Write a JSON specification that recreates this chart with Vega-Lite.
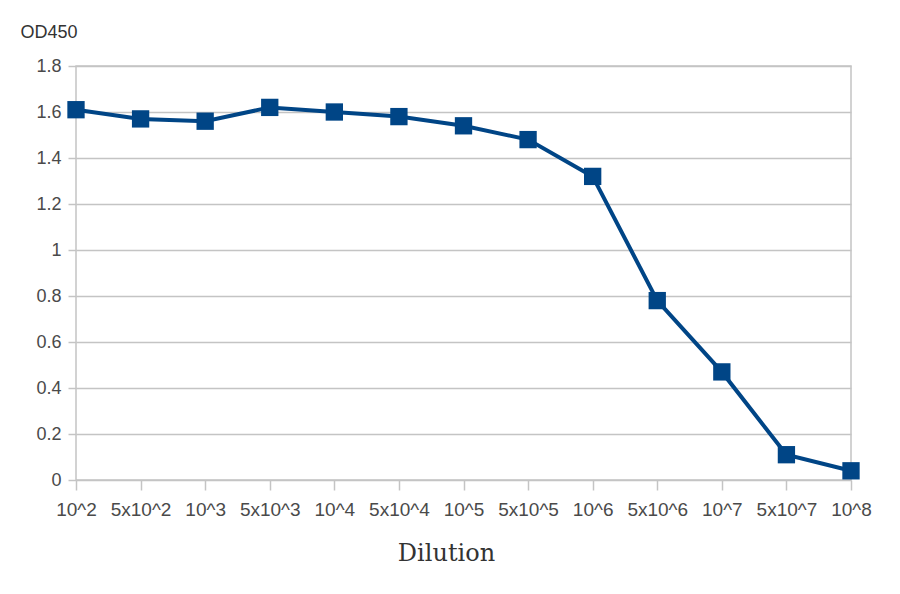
{
  "$schema": "https://vega.github.io/schema/vega-lite/v6.json",
  "description": "OD450 against dilution",
  "width": 775,
  "height": 414,
  "autosize": "none",
  "padding": {"left": 76, "top": 66, "right": 49, "bottom": 114},
  "background": "white",
  "config": {
    "view": {"stroke": "#c4c4c4", "strokeWidth": 1.5},
    "axis": {
      "labelFont": "Liberation Sans",
      "labelColor": "#4a4a4a",
      "domain": false,
      "tickColor": "#c4c4c4",
      "tickWidth": 1.5,
      "gridColor": "#c4c4c4",
      "gridWidth": 1.5
    }
  },
  "data": {
    "values": [
      {"dilution": "10^2", "od": 1.61},
      {"dilution": "5x10^2", "od": 1.57},
      {"dilution": "10^3", "od": 1.56},
      {"dilution": "5x10^3", "od": 1.62},
      {"dilution": "10^4", "od": 1.6},
      {"dilution": "5x10^4", "od": 1.58},
      {"dilution": "10^5", "od": 1.54},
      {"dilution": "5x10^5", "od": 1.48},
      {"dilution": "10^6", "od": 1.32},
      {"dilution": "5x10^6", "od": 0.78},
      {"dilution": "10^7", "od": 0.47},
      {"dilution": "5x10^7", "od": 0.11},
      {"dilution": "10^8", "od": 0.04}
    ]
  },
  "encoding": {
    "x": {
      "field": "dilution",
      "type": "ordinal",
      "sort": null,
      "scale": {"type": "point", "padding": 0},
      "axis": {
        "title": "Dilution",
        "titleFont": "DejaVu Serif",
        "titleFontSize": 24,
        "titleFontWeight": "normal",
        "titleColor": "#333333",
        "titleX": 370,
        "titleY": 73,
        "titleBaseline": "middle",
        "labelAngle": 0,
        "labelFontSize": 19,
        "tickSize": 10,
        "labelPadding": 10,
        "grid": false
      }
    },
    "y": {
      "field": "od",
      "type": "quantitative",
      "scale": {"domain": [0, 1.8]},
      "axis": {
        "title": "OD450",
        "titleFont": "Liberation Sans",
        "titleFontSize": 18,
        "titleFontWeight": "normal",
        "titleColor": "#333333",
        "titleAngle": 0,
        "titleAlign": "left",
        "titleBaseline": "middle",
        "titleX": -56,
        "titleY": -34,
        "values": [0, 0.2, 0.4, 0.6, 0.8, 1, 1.2, 1.4, 1.6, 1.8],
        "format": "~g",
        "labelFontSize": 18,
        "tickSize": 8,
        "labelPadding": 7
      }
    }
  },
  "layer": [
    {"mark": {"type": "line", "color": "#004586", "strokeWidth": 4}},
    {
      "mark": {
        "type": "point",
        "shape": "square",
        "filled": true,
        "opacity": 1,
        "size": 300,
        "color": "#004586"
      }
    }
  ]
}
